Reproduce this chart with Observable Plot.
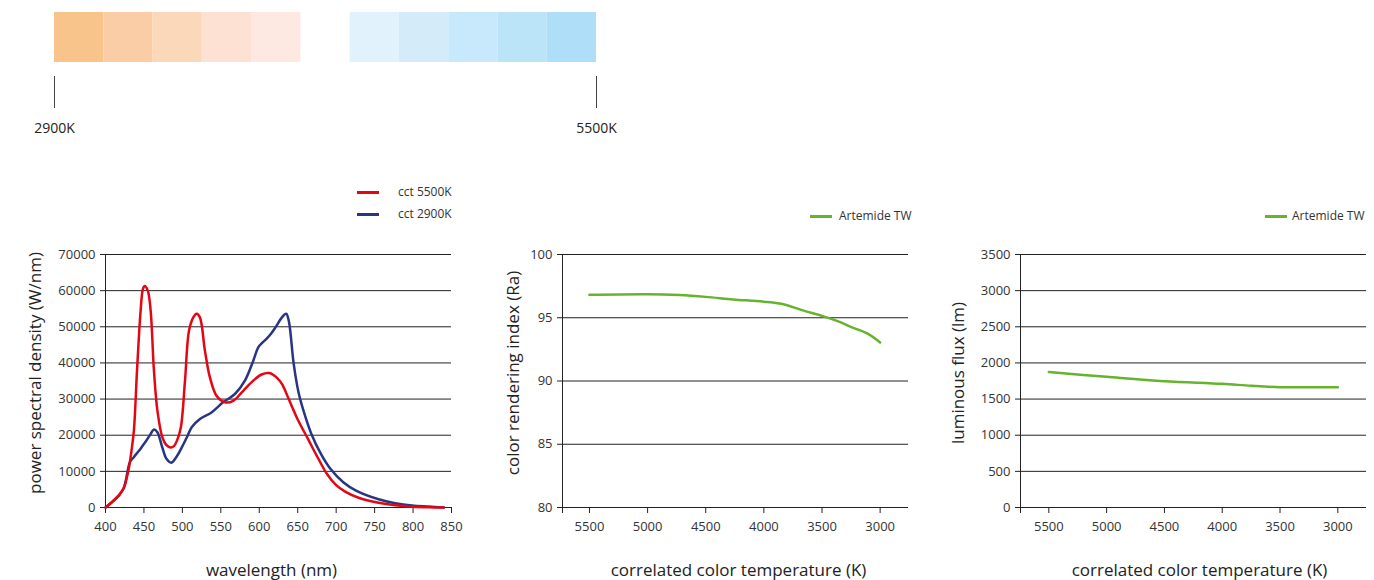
<!DOCTYPE html>
<html><head><meta charset="utf-8">
<script src="https://cdn.jsdelivr.net/npm/d3@7"></script>
<script src="https://cdn.jsdelivr.net/npm/@observablehq/plot@0.6"></script>
<style>
body{margin:0;background:#fff;font-family:"Open Sans",sans-serif;}
#root{position:relative;width:1374px;height:580px;overflow:hidden;background:#fff;}
.p{position:absolute;}
.leg{position:absolute;font-size:12px;color:#333;white-space:nowrap;line-height:16px;}
.leg .sw{position:absolute;height:3px;}
.leg .tx{position:absolute;}
</style></head>
<body><div id="root"></div>
<script>
// ---- data ----
const swatchSlots = [0, 1, 2, 3, 4, 6, 7, 8, 9, 10];
const swatchColors = ["#f9c38c", "#fbcda6", "#fcd8bb", "#fde2d3", "#fde9e1",
                      "#e1f2fd", "#d4ebfa", "#c8e8fb", "#bce4f9", "#afdef8"];
const cctBarTicks = [0, 11];
const cctBarLabels = ["2900K", "5500K"];

const wl5500 = [400, 410, 418, 424, 430, 434, 437, 441, 445.7, 448.7, 451, 455, 458.7, 463, 467.5, 474, 479, 484.6, 489, 493, 498, 503.4, 508.6, 514.2, 518.5, 522.8, 529.3, 535.8, 544.4, 555.2, 566.1, 579.1, 592.2, 602.9, 613.1, 623.4, 630, 638.3, 650.8, 663.3, 675.8, 688.3, 700, 711.7, 729.1, 755.2, 776.9, 798.7, 820, 840];
const psd5500 = [0, 1800, 3500, 5500, 10500, 16000, 21500, 37900, 54500, 60500, 61300, 60000, 54500, 37900, 26800, 19400, 17300, 16600, 17000, 18500, 22200, 35100, 48900, 52600, 53600, 52600, 43400, 36000, 30900, 29100, 29500, 32300, 35100, 36800, 37200, 35800, 34000, 30000, 24000, 19000, 13900, 9200, 6200, 4400, 2700, 1300, 600, 200, 60, 0];

const wl2900 = [400, 410, 418, 424, 431.7, 437, 443.5, 448, 452.1, 458.6, 463, 467.5, 473.9, 479.5, 485.5, 493.2, 501.3, 506, 512.1, 522.8, 537.9, 553, 568.3, 581.3, 592.2, 598.7, 604, 609, 615, 621.3, 629.5, 635, 638.5, 644.6, 650.8, 659.2, 667.5, 680, 692.5, 709.2, 725.8, 755.2, 776.9, 798.7, 820.4, 840];
const psd2900 = [0, 1800, 3500, 5500, 12500, 14000, 15700, 17000, 18200, 20300, 21600, 20800, 16600, 13400, 12400, 14300, 17500, 19500, 22200, 24500, 26300, 29100, 31400, 35100, 40600, 44300, 45600, 46600, 48000, 49900, 52600, 53600, 51500, 40000, 32100, 25600, 20500, 14900, 10700, 7000, 4700, 2300, 1200, 550, 250, 0];

const psdTicks = [0, 10000, 20000, 30000, 40000, 50000, 60000, 70000];
const wlTicks = [400, 450, 500, 550, 600, 650, 700, 750, 800, 850];

const criCct = [5500, 5000, 4726, 4500, 4263, 4000, 3823, 3680, 3500, 3366, 3252, 3111, 3000];
const criValues = [96.81, 96.86, 96.79, 96.65, 96.45, 96.27, 96.05, 95.62, 95.15, 94.73, 94.28, 93.76, 93.05];
const criTicks = [80, 85, 90, 95, 100];

const fluxCct = [5500, 5000, 4500, 4000, 3750, 3500, 3000];
const fluxValues = [1873, 1808, 1748, 1711, 1684, 1665, 1665];
const fluxTicks = [0, 500, 1000, 1500, 2000, 2500, 3000, 3500];

const cctTicks = [5500, 5000, 4500, 4000, 3500, 3000];

// ---- drawing ----
const root = document.getElementById("root");
const FONT = "'Open Sans', sans-serif";
function place(el, left, top) {
  el.classList.add("p");
  el.style.left = left + "px";
  el.style.top = top + "px";
  root.appendChild(el);
}

// colour bar
place(Plot.plot({
  width: 650, height: 150,
  marginLeft: 54, marginRight: 54, marginTop: 12, marginBottom: 88,
  style: {fontFamily: FONT, fontSize: "13px", color: "#333", background: "transparent"},
  x: {domain: [0, 11], axis: null},
  color: {type: "identity"},
  marks: [
    Plot.rect(swatchSlots, {x1: d => d, x2: d => d + 1, fill: (d, i) => swatchColors[i]}),
    Plot.ruleX(cctBarTicks, {x: d => d, stroke: "#444", strokeWidth: 1, insetTop: 64, insetBottom: -46}),
    Plot.text(cctBarTicks, {x: d => d, text: (d, i) => cctBarLabels[i], frameAnchor: "bottom", lineAnchor: "middle", dy: 66, fontSize: 14, fill: "#222"})
  ]
}), 0, 0);

function chart(o) {
  const fmt = d => String(d);
  return Plot.plot({
    width: o.width, height: 410,
    marginLeft: o.ml, marginRight: o.mr, marginTop: 84, marginBottom: 73,
    style: {fontFamily: FONT, fontSize: "13px", color: "#333", background: "transparent", overflow: "visible"},
    x: {domain: o.xDomain},
    y: {domain: o.yDomain},
    marks: [
      Plot.gridY(o.yTicks, {stroke: "#222", strokeOpacity: 1, strokeWidth: 1}),
      Plot.ruleX([o.xDomain[0]], {stroke: "#222", strokeWidth: 1, insetBottom: -6}),
      Plot.axisY(o.yTicks, {tickSize: 5, tickPadding: 5, tickFormat: fmt, label: null, stroke: "#222"}),
      Plot.axisX(o.xTicks, {tickSize: 6, tickPadding: 8, tickFormat: fmt, label: null, stroke: "#222"}),
      ...o.lines.map(l => Plot.line({length: l.x.length}, {x: l.x, y: l.y, stroke: l.color, strokeWidth: 2.5, curve: "catmull-rom"})),
      Plot.text([o.xLabel], {text: d => d, frameAnchor: "bottom", lineAnchor: "middle", dy: 63, dx: o.xLabelDx, fontSize: 17, fill: "#222"}),
      Plot.text([o.yLabel], {text: d => d, frameAnchor: "left", textAnchor: "middle", lineAnchor: "middle", dx: o.yLabelDx, dy: -8, rotate: -90, fontSize: 17, fill: "#222"})
    ]
  });
}

place(chart({
  width: 460, ml: 105, mr: 9,
  xDomain: [400, 850], yDomain: [0, 70000],
  xTicks: wlTicks, yTicks: psdTicks,
  lines: [{x: wl2900, y: psd2900, color: "#283582"}, {x: wl5500, y: psd5500, color: "#e30613"}],
  xLabel: "wavelength (nm)", xLabelDx: -7,
  yLabel: "power spectral density (W/nm)", yLabelDx: -70
}), 0, 170);

place(chart({
  width: 460, ml: 102, mr: 12,
  xDomain: [5732, 2756], yDomain: [80, 100],
  xTicks: cctTicks, yTicks: criTicks,
  lines: [{x: criCct, y: criValues, color: "#66b32e"}],
  xLabel: "correlated color temperature (K)", xLabelDx: 3,
  yLabel: "color rendering index (Ra)", yLabelDx: -49
}), 460, 170);

place(chart({
  width: 454, ml: 100, mr: 8,
  xDomain: [5745, 2752], yDomain: [0, 3500],
  xTicks: cctTicks, yTicks: fluxTicks,
  lines: [{x: fluxCct, y: fluxValues, color: "#66b32e"}],
  xLabel: "correlated color temperature (K)", xLabelDx: 6,
  yLabel: "luminous flux (lm)", yLabelDx: -62
}), 920, 170);

// legends
function legend(items) {
  for (const it of items) {
    const d = document.createElement("div");
    d.className = "leg";
    d.style.left = "0px"; d.style.top = "0px";
    const sw = document.createElement("div");
    sw.className = "sw";
    sw.style.left = it.x1 + "px"; sw.style.width = (it.x2 - it.x1) + "px";
    sw.style.top = (it.y - 1.5) + "px"; sw.style.background = it.color;
    const tx = document.createElement("div");
    tx.className = "tx";
    tx.style.left = it.tx + "px"; tx.style.top = (it.y - 8.5) + "px";
    tx.textContent = it.label;
    d.appendChild(sw); d.appendChild(tx);
    root.appendChild(d);
  }
}
legend([
  {label: "cct 5500K", color: "#e30613", x1: 357, x2: 379, tx: 398, y: 192},
  {label: "cct 2900K", color: "#283582", x1: 357, x2: 379, tx: 398, y: 214.5},
  {label: "Artemide TW", color: "#66b32e", x1: 810, x2: 832, tx: 839, y: 216},
  {label: "Artemide TW", color: "#66b32e", x1: 1265, x2: 1287, tx: 1292, y: 216}
]);
</script>
</body></html>
